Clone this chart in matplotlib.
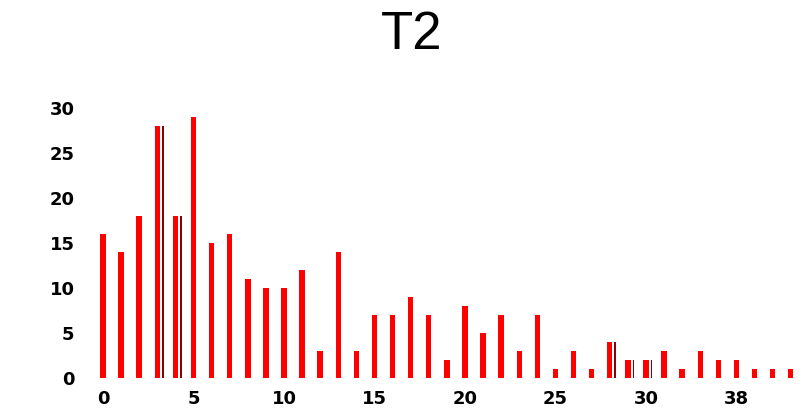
import matplotlib
matplotlib.use("Agg")
import matplotlib.pyplot as plt
import numpy as np

# Data
values = [16, 14, 18, 28, 18, 29, 15, 16, 11, 10, 10, 12, 3, 14, 3, 7, 7, 9, 7, 2,
          8, 5, 7, 3, 7, 1, 3, 1, 4, 2, 2, 3, 1, 3, 2, 2, 1, 1, 1]
dark_idx = [3, 4, 28, 29, 30]
dark_vals = [28, 18, 4, 2, 2]
xtick_pos = [0, 5, 10, 15, 20, 25, 30, 35]
xtick_labels = ["0", "5", "10", "15", "20", "25", "30", "38"]
ytick_vals = [0, 5, 10, 15, 20, 25, 30]
title = "T2"

fig = plt.figure(figsize=(8.03, 4.09), dpi=100)
ax = fig.add_axes([0.117, 0.0758, 0.879, 0.661])

x = np.arange(len(values))
ax.bar(x, values, width=0.3, color="#ff0000", linewidth=0)
ax.bar(np.array(dark_idx) + 0.31, dark_vals, width=0.1, color="#8b0000", linewidth=0)

ax.set_xlim(-0.5, 38.5)
ax.set_ylim(0, 30)
for s in ax.spines.values():
    s.set_visible(False)

ax.set_xticks(xtick_pos)
ax.set_xticklabels(xtick_labels, fontsize=13, fontweight="heavy", family="DejaVu Sans")
ax.set_yticks(ytick_vals)
ax.set_yticklabels([str(v) for v in ytick_vals], fontsize=13, fontweight="heavy", family="DejaVu Sans")
ax.tick_params(axis="both", length=0)
ax.tick_params(axis="x", pad=9)
ax.tick_params(axis="y", pad=14)

fig.text(412 / 803, 1 - 49 / 409, title, ha="center", va="baseline",
         fontsize=38, family="Liberation Sans")

fig.savefig("out.png", dpi=100)
